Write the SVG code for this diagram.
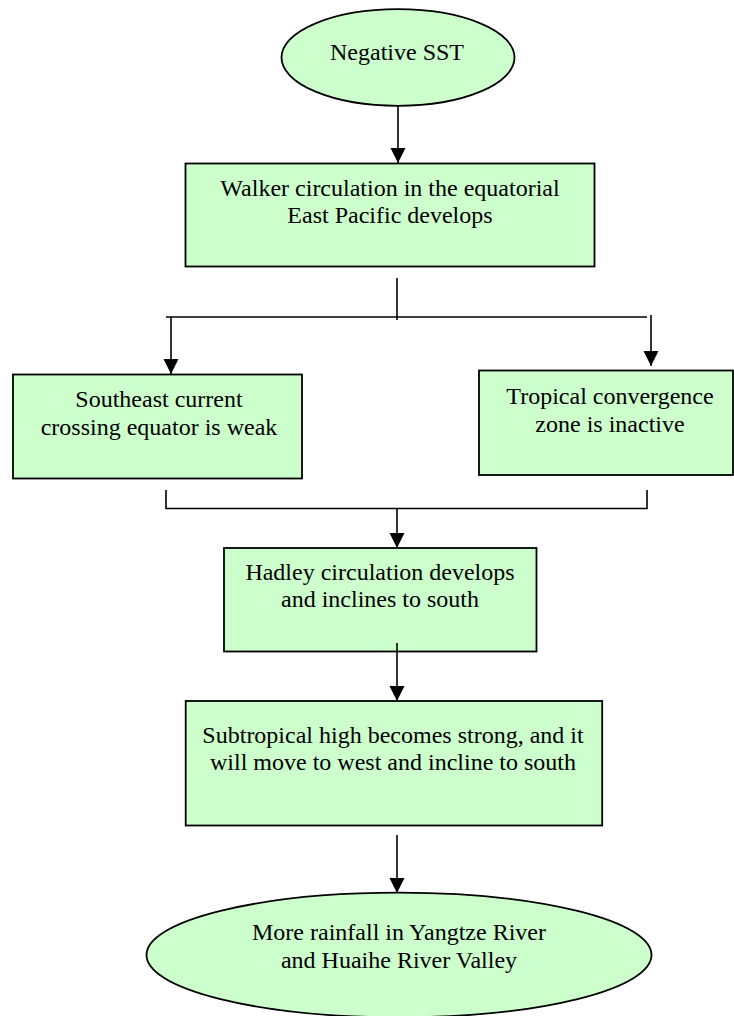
<svg xmlns="http://www.w3.org/2000/svg" width="734" height="1016" viewBox="0 0 734 1016">
<style>
.node{fill:#ccffcc;stroke:#000;stroke-width:1.8}
.lbl{font-family:"Liberation Serif","Times New Roman",serif;font-size:24px;fill:#000;text-anchor:middle}
.conn line,.conn polyline{stroke:#000;stroke-width:1.6;fill:none}
</style>
<defs>
<marker id="arr" markerUnits="userSpaceOnUse" markerWidth="16" markerHeight="16" viewBox="0 0 16 16" refX="15" refY="8" orient="auto">
<path d="M0,0.5 L15,8 L0,15.5 z" fill="#000"/>
</marker>
</defs>
<rect width="734" height="1016" fill="#fff"/>
<g id="n-sst">
<ellipse class="node" cx="398" cy="57.5" rx="116.5" ry="48.3"/>
<text class="lbl" x="397" y="60">Negative SST</text>
</g>
<g id="n-walker">
<rect class="node" x="185.5" y="163.5" width="409" height="103"/>
<text class="lbl" x="390" y="196">Walker circulation in the equatorial</text>
<text class="lbl" x="390" y="222.7">East Pacific develops</text>
</g>
<g id="n-southeast">
<rect class="node" x="13" y="374.5" width="289" height="104"/>
<text class="lbl" x="159" y="406.7">Southeast current</text>
<text class="lbl" x="159" y="435">crossing equator is weak</text>
</g>
<g id="n-tropical">
<rect class="node" x="479" y="370.5" width="254" height="104.5"/>
<text class="lbl" x="610" y="404">Tropical convergence</text>
<text class="lbl" x="610" y="431.7">zone is inactive</text>
</g>
<g id="n-hadley">
<rect class="node" x="224" y="548" width="312.5" height="103.5"/>
<text class="lbl" x="380" y="580">Hadley circulation develops</text>
<text class="lbl" x="380" y="606.7">and inclines to south</text>
</g>
<g id="n-subtropical">
<rect class="node" x="185.7" y="701" width="416.5" height="124.5"/>
<text class="lbl" x="393" y="742.7">Subtropical high becomes strong, and it</text>
<text class="lbl" x="393" y="770">will move to west and incline to south</text>
</g>
<g id="n-rainfall">
<ellipse class="node" cx="399" cy="955" rx="252.5" ry="62.3"/>
<text class="lbl" x="399" y="940">More rainfall in Yangtze River</text>
<text class="lbl" x="399" y="968.3">and Huaihe River Valley</text>
</g>
<g id="connectors" class="conn">
<line x1="398" y1="106" x2="398" y2="163" marker-end="url(#arr)"/>
<line x1="397" y1="278" x2="397" y2="320"/>
<line x1="166" y1="317" x2="647" y2="317"/>
<line x1="171" y1="317" x2="171" y2="374" marker-end="url(#arr)"/>
<line x1="651" y1="315" x2="651" y2="366" marker-end="url(#arr)"/>
<polyline points="166,490 166,508.5 647,508.5 647,490"/>
<line x1="397" y1="508.5" x2="397" y2="548" marker-end="url(#arr)"/>
<line x1="397" y1="643" x2="397" y2="701" marker-end="url(#arr)"/>
<line x1="397" y1="835" x2="397" y2="893" marker-end="url(#arr)"/>
</g>
</svg>
